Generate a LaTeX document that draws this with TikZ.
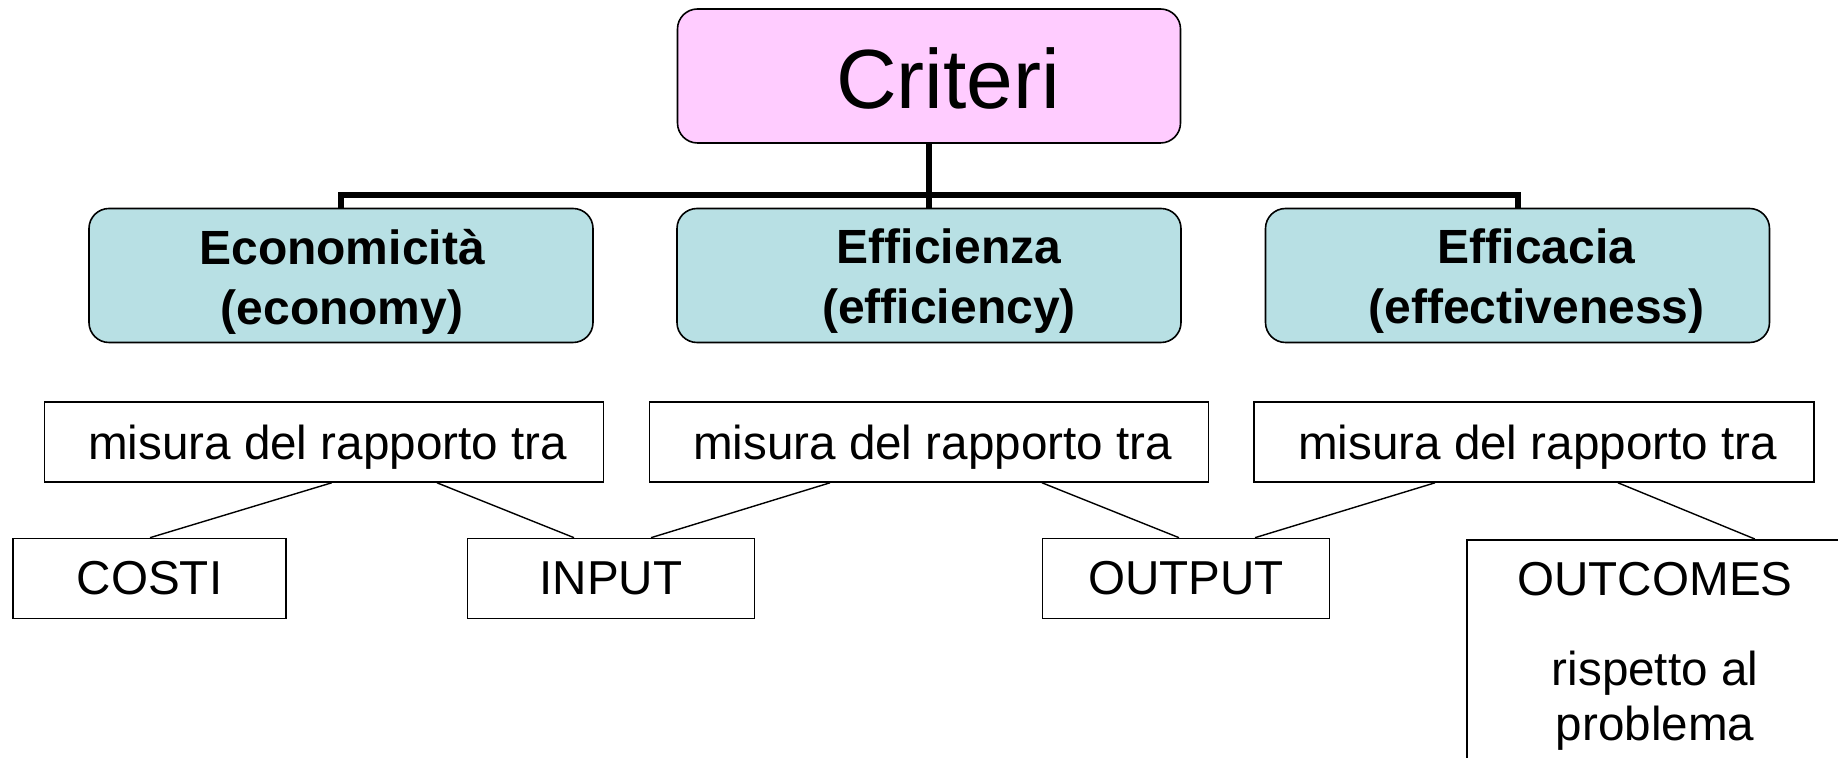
\documentclass[tikz,border=0pt]{standalone}
\usepackage{fontspec}
\setmainfont{Liberation Sans}
\usetikzlibrary{calc}
\definecolor{pinkfill}{HTML}{FFCCFF}
\definecolor{tealfill}{HTML}{B8E0E4}
\begin{document}
\begin{tikzpicture}[x=0.5pt,y=-0.5pt,
  topbox/.style={draw=black, line width=0.8pt, rounded corners=10pt, fill=pinkfill,
    minimum width=251.5pt, minimum height=67pt, inner sep=0pt, text height=32.7pt, text depth=0pt,
    font=\fontsize{42}{50}\selectfont},
  critbox/.style={draw=black, line width=0.8pt, rounded corners=10pt, fill=tealfill,
    minimum width=252pt, minimum height=67pt, inner sep=0pt},
  crittext/.style={inner sep=0pt, align=center, font=\fontsize{24}{30}\selectfont\bfseries},
  plainbox/.style={draw=black, line width=0.8pt, inner sep=0pt, minimum height=40pt,
    font=\fontsize{23.8}{28}\selectfont},
  misurabox/.style={plainbox, text height=18pt, text depth=0pt},
  plaintext/.style={inner sep=0pt, align=center, font=\fontsize{23.8}{27.5}\selectfont},
  tree/.style={line width=3pt},
  link/.style={line width=0.7pt}]
\clip (0,0) rectangle (1838,758);
\fill[white] (0,0) rectangle (1838,758);

% top
\node[topbox] (crit) at (929,76) {\hspace{19pt}Criteri};

% criteria
\node[critbox] (eco) at (341,275.5) {};
\node[critbox] (eff) at (929,275.5) {};
\node[critbox] (efc) at (1517.5,275.5) {};
\node[crittext] (ecot) at ($(eco.center)+(1,6)$) {Economicità\\(economy)};
\node[crittext] (efft) at ($(eff.center)+(20,6)$) {Efficienza\\(efficiency)};
\node[crittext] (efct) at ($(efc.center)+(19,6)$) {Efficacia\\(effectiveness)};

% tree connectors
\coordinate (junction) at (929,195);
\draw[tree] (crit.south) -- (eff.north);
\draw[tree] (eco.north) -- (eco.north |- junction) -- (efc.north |- junction) -- (efc.north);

% misura boxes
\node[misurabox, minimum width=279.5pt] (m1) at (324,442) {\hspace{3.5pt}misura del rapporto tra};
\node[misurabox, minimum width=279.5pt] (m2) at (929,442) {\hspace{3.5pt}misura del rapporto tra};
\node[misurabox, minimum width=280pt] (m3) at (1534,442) {\hspace{3.5pt}misura del rapporto tra};

% bottom boxes
\node[plainbox, minimum width=136.5pt] (costi) at (149.5,578.5) {COSTI};
\node[plainbox, minimum width=143.5pt] (input) at (611,578.5) {INPUT};
\node[plainbox, minimum width=143.5pt] (output) at (1186,578.5) {OUTPUT};
\node[draw=black, line width=0.8pt, inner sep=0pt, anchor=north west,
      minimum width=189pt, minimum height=130pt] (outc) at (1466,539) {};
\node[plaintext] (outct) at (1655,579) {OUTCOMES};
\node[plaintext] (outcs) at (1655,701) {rispetto al\\problema};

% links
\draw[link] ($(m1.south)+(7.7,0)$) -- ($(costi.north)+(0.5,0)$);
\draw[link] ($(m1.south)+(113,0)$) -- ($(input.north)+(-37,0)$);
\draw[link] ($(m2.south)+(-99,0)$) -- ($(input.north)+(40,0)$);
\draw[link] ($(m2.south)+(113,0)$) -- ($(output.north)+(-7,0)$);
\draw[link] ($(m3.south)+(-99,0)$) -- ($(output.north)+(69,0)$);
\draw[link] ($(m3.south)+(84,0)$) -- ($(outc.north)+(99,0)$);
\end{tikzpicture}
\end{document}
